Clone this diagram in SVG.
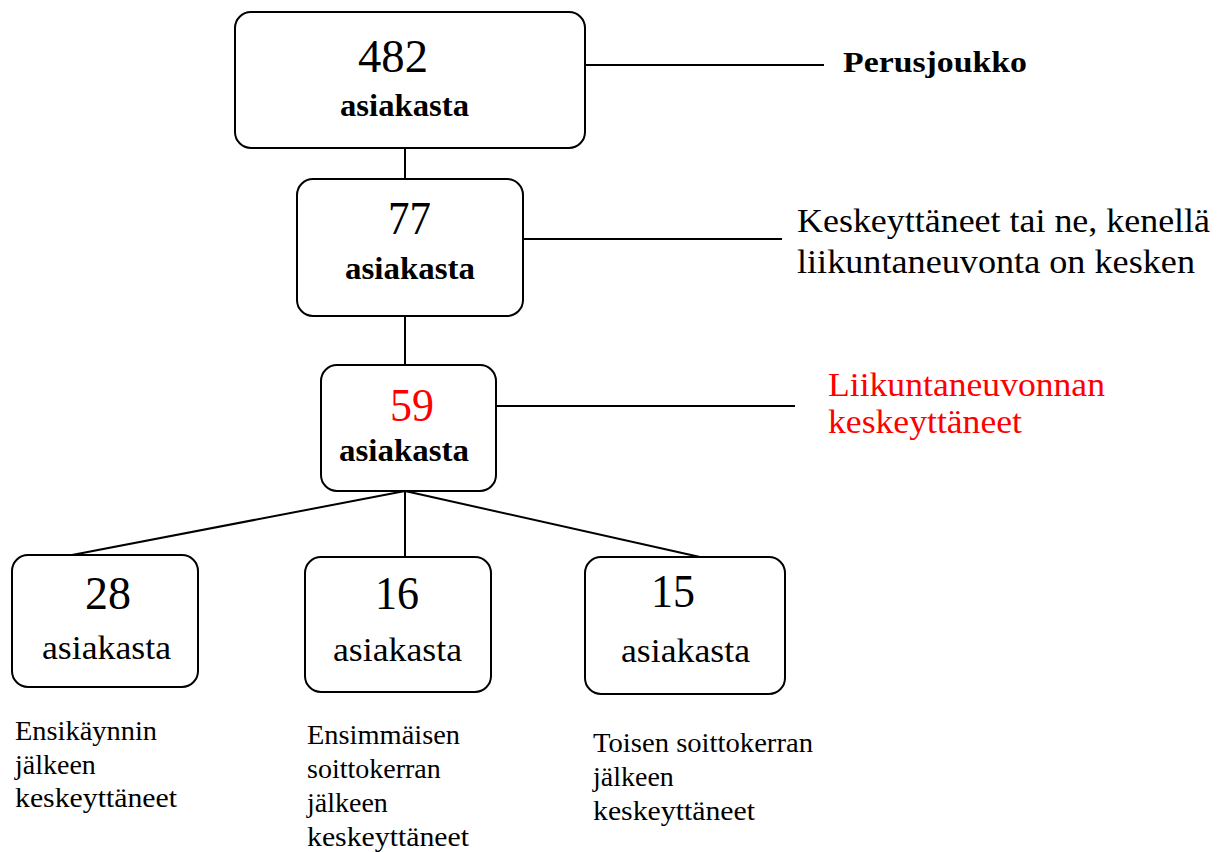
<svg xmlns="http://www.w3.org/2000/svg" width="1227" height="852" viewBox="0 0 1227 852">
<style>
.box{fill:#fff;stroke:#000;stroke-width:2}
.con{stroke:#000;stroke-width:2;fill:none}
text{font-family:"Liberation Serif","Times New Roman",serif;fill:#000}
.num{font-size:46px}
.lbl{font-size:32px;font-weight:bold}
.lbl2{font-size:34px}
.side{font-size:33px}
.note{font-size:28px}
.red{fill:#f00}
</style>
<rect width="1227" height="852" fill="#fff"/>
<g id="connectors">
<line class="con" x1="405" y1="148" x2="405" y2="179"/>
<line class="con" x1="405" y1="316" x2="405" y2="365"/>
<line class="con" x1="585" y1="65" x2="824" y2="65"/>
<line class="con" x1="523" y1="239" x2="782" y2="239"/>
<line class="con" x1="496" y1="406" x2="795" y2="406"/>
<line class="con" x1="405" y1="491" x2="72" y2="555"/>
<line class="con" x1="405" y1="491" x2="405" y2="557"/>
<line class="con" x1="405" y1="491" x2="700" y2="557"/>
</g>
<g id="n482">
<rect class="box" x="235" y="12" width="350" height="136" rx="16"/>
<text class="num" x="358" y="72" textLength="70" lengthAdjust="spacingAndGlyphs">482</text>
<text class="lbl" x="340" y="116" textLength="129" lengthAdjust="spacingAndGlyphs">asiakasta</text>
</g>
<g id="perusjoukko"><text x="843" y="72" font-weight="bold" font-size="30" textLength="184" lengthAdjust="spacingAndGlyphs">Perusjoukko</text></g>
<g id="n77">
<rect class="box" x="297" y="179" width="226" height="137" rx="16"/>
<text class="num" x="388" y="234" fill="#333" textLength="43" lengthAdjust="spacingAndGlyphs">77</text>
<text class="lbl" x="345" y="279" textLength="130" lengthAdjust="spacingAndGlyphs">asiakasta</text>
</g>
<g id="keskeyttaneet">
<text class="side" x="797" y="232" textLength="413" lengthAdjust="spacingAndGlyphs">Keskeyttäneet tai ne, kenellä</text>
<text class="side" x="797" y="273" textLength="398" lengthAdjust="spacingAndGlyphs">liikuntaneuvonta on kesken</text>
</g>
<g id="n59">
<rect class="box" x="321" y="365" width="175" height="126" rx="16"/>
<text class="num red" x="390" y="421" textLength="44" lengthAdjust="spacingAndGlyphs">59</text>
<text class="lbl" x="339" y="461" textLength="130" lengthAdjust="spacingAndGlyphs">asiakasta</text>
</g>
<g id="liikunta">
<text class="side red" x="828" y="396" textLength="277" lengthAdjust="spacingAndGlyphs">Liikuntaneuvonnan</text>
<text class="side red" x="828" y="433" textLength="194" lengthAdjust="spacingAndGlyphs">keskeyttäneet</text>
</g>
<g id="n28">
<rect class="box" x="12" y="555" width="186" height="132" rx="16"/>
<text class="num" x="85" y="609" textLength="46" lengthAdjust="spacingAndGlyphs">28</text>
<text class="lbl2" x="42" y="659" textLength="129" lengthAdjust="spacingAndGlyphs">asiakasta</text>
</g>
<g id="n16">
<rect class="box" x="305" y="557" width="186" height="135" rx="16"/>
<text class="num" x="375" y="609" textLength="44" lengthAdjust="spacingAndGlyphs">16</text>
<text class="lbl2" x="333" y="661" textLength="129" lengthAdjust="spacingAndGlyphs">asiakasta</text>
</g>
<g id="n15">
<rect class="box" x="585" y="557" width="200" height="137" rx="16"/>
<text class="num" x="651" y="607" textLength="44" lengthAdjust="spacingAndGlyphs">15</text>
<text class="lbl2" x="621" y="662" textLength="129" lengthAdjust="spacingAndGlyphs">asiakasta</text>
</g>
<g id="note1">
<text class="note" x="15" y="740" textLength="142" lengthAdjust="spacingAndGlyphs">Ensikäynnin</text>
<text class="note" x="15" y="774">jälkeen</text>
<text class="note" x="15" y="807" textLength="162" lengthAdjust="spacingAndGlyphs">keskeyttäneet</text>
</g>
<g id="note2">
<text class="note" x="307" y="744" textLength="153" lengthAdjust="spacingAndGlyphs">Ensimmäisen</text>
<text class="note" x="307" y="778">soittokerran</text>
<text class="note" x="307" y="812">jälkeen</text>
<text class="note" x="307" y="846" textLength="162" lengthAdjust="spacingAndGlyphs">keskeyttäneet</text>
</g>
<g id="note3">
<text class="note" x="593" y="752" textLength="220" lengthAdjust="spacingAndGlyphs">Toisen soittokerran</text>
<text class="note" x="593" y="786">jälkeen</text>
<text class="note" x="593" y="820" textLength="162" lengthAdjust="spacingAndGlyphs">keskeyttäneet</text>
</g>
</svg>
